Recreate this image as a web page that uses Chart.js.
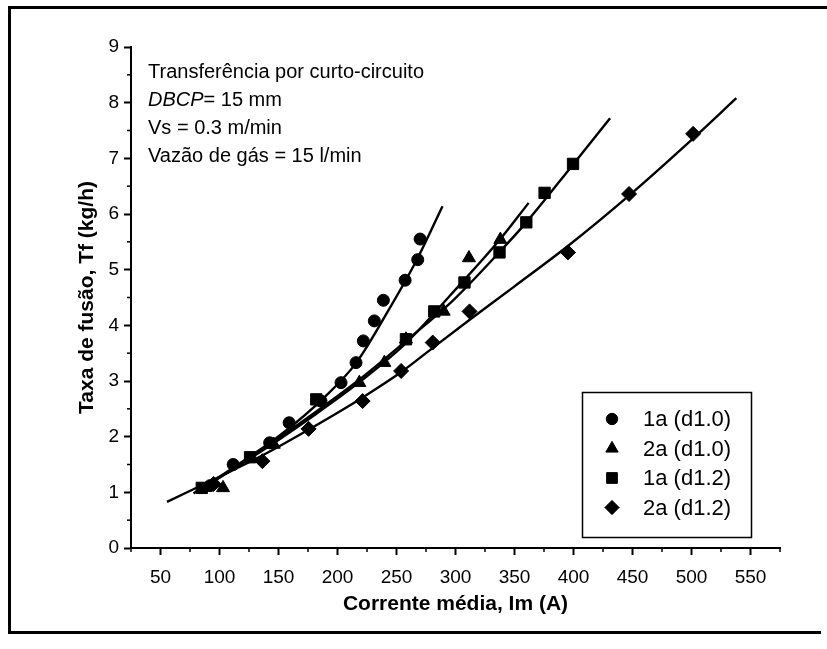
<!DOCTYPE html>
<html>
<head>
<meta charset="utf-8">
<script src="https://cdn.jsdelivr.net/npm/chart.js@4.4.1/dist/chart.umd.min.js"></script>
<style>
html,body{margin:0;padding:0;background:#fff;}
#wrap{width:827px;height:649px;position:relative;}
</style>
</head>
<body>
<div id="wrap"><canvas id="c" width="827" height="649"></canvas></div>
<script>
// ---------- data ----------
const xMajorTicks = [50,100,150,200,250,300,350,400,450,500,550];
const xMinorTicks = [25,75,125,175,225,275,325,375,425,475,525,575];
const yMajorTicks = [0,1,2,3,4,5,6,7,8,9];
const yMinorTicks = [0.5,1.5,2.5,3.5,4.5,5.5,6.5,7.5,8.5];

const seriesLabels = ['1a (d1.0)','2a (d1.0)','1a (d1.2)','2a (d1.2)'];

// 1a (d1.0) - circles
const s1_x = [92, 111.6, 142.5, 159, 186, 203, 215.7, 221.9, 231.2, 238.9, 257.3, 268, 270];
const s1_y = [1.12, 1.50, 1.89, 2.25, 2.64, 2.97, 3.33, 3.72, 4.08, 4.45, 4.81, 5.18, 5.55];
// 2a (d1.0) - triangles
const s2_x = [103, 146, 186, 218.5, 239.7, 258, 290, 311.4, 338];
const s2_y = [1.08, 1.86, 2.62, 2.97, 3.33, 3.75, 4.25, 5.21, 5.54];
// 1a (d1.2) - squares
const s3_x = [85, 125.9, 182, 258, 282, 307.6, 337.3, 360, 375.5, 399.6];
const s3_y = [1.08, 1.63, 2.67, 3.75, 4.25, 4.77, 5.31, 5.85, 6.38, 6.90];
// 2a (d1.2) - diamonds
const s4_x = [95, 136.4, 175.5, 221.3, 253.9, 280.7, 311.9, 395.3, 447.1, 501.4];
const s4_y = [1.15, 1.56, 2.14, 2.64, 3.18, 3.69, 4.25, 5.31, 6.36, 7.44];

// fitted curves
const f1_x = [78, 110, 151, 190, 216, 244, 267, 289];
const f1_y = [0.98, 1.42, 2.02, 2.73, 3.33, 4.30, 5.17, 6.14];
const f2_x = [80, 140, 180, 218, 258, 296, 338, 362];
const f2_y = [1.00, 1.80, 2.38, 2.97, 3.68, 4.55, 5.55, 6.20];
const f3_x = [80, 130, 180, 220, 258, 298, 337, 360, 400, 431];
const f3_y = [1.00, 1.68, 2.42, 3.05, 3.72, 4.45, 5.31, 5.85, 6.90, 7.72];
const f4_x = [55.5, 100, 137, 175, 221, 254, 281, 312, 350, 395, 447, 501, 538];
const f4_y = [0.83, 1.28, 1.67, 2.12, 2.70, 3.16, 3.60, 4.10, 4.70, 5.42, 6.33, 7.35, 8.08];

const noteLines = ['Transferência por curto-circuito', 'DBCP', '= 15 mm', 'Vs = 0.3 m/min', 'Vazão de gás = 15 l/min'];
const xTitle = 'Corrente média, Im (A)';
const yTitle = 'Taxa de fusão, Tf (kg/h)';

// ---------- helpers ----------
const FONT = "'Liberation Sans', Arial, Helvetica, sans-serif";
const zip = (xs, ys) => xs.map((x, i) => ({x: x, y: ys[i]}));

function markerSet(label, xs, ys, style, r) {
  return {
    label: label, data: zip(xs, ys), showLine: false,
    pointStyle: style, pointRadius: r, pointHoverRadius: r,
    backgroundColor: '#000', borderColor: '#000', borderWidth: 1, order: 1
  };
}
function fitSet(xs, ys) {
  return {
    label: '', data: zip(xs, ys), showLine: true, pointRadius: 0, pointHoverRadius: 0,
    borderColor: '#000', borderWidth: 2.4, fill: false, cubicInterpolationMode: 'monotone', order: 2
  };
}

const styles = [['circle', 6], ['triangle', 7.5], ['rect', 8], ['rectRot', 7.5]];

const decor = {
  id: 'decor',
  beforeDraw(chart) {
    const ctx = chart.ctx;
    ctx.save();
    ctx.fillStyle = '#fff';
    ctx.fillRect(0, 0, chart.width, chart.height);
    ctx.restore();
  },
  afterDraw(chart) {
    const ctx = chart.ctx;
    const xs = chart.scales.x, ys = chart.scales.y;
    ctx.save();
    // minor ticks
    ctx.strokeStyle = '#000';
    ctx.lineWidth = 1.5;
    xMinorTicks.forEach(v => {
      const p = xs.getPixelForValue(v);
      ctx.beginPath(); ctx.moveTo(p, xs.top); ctx.lineTo(p, xs.top + 4); ctx.stroke();
    });
    yMinorTicks.forEach(v => {
      const p = ys.getPixelForValue(v);
      ctx.beginPath(); ctx.moveTo(ys.right, p); ctx.lineTo(ys.right - 4, p); ctx.stroke();
    });

    // annotation text
    ctx.fillStyle = '#000';
    ctx.textBaseline = 'alphabetic';
    ctx.textAlign = 'left';
    ctx.font = '20px ' + FONT;
    ctx.fillText(noteLines[0], 148, 78);
    ctx.font = 'italic 20px ' + FONT;
    ctx.fillText(noteLines[1], 148, 106);
    const w = ctx.measureText(noteLines[1]).width;
    ctx.font = '20px ' + FONT;
    ctx.fillText(noteLines[2], 148 + w, 106);
    ctx.fillText(noteLines[3], 148, 134);
    ctx.fillText(noteLines[4], 148, 162);

    // legend
    ctx.lineWidth = 1.5;
    ctx.strokeRect(582.5, 392.5, 169, 145);
    ctx.font = '22px ' + FONT;
    ctx.textBaseline = 'middle';
    seriesLabels.forEach((lab, i) => {
      const yy = 419 + i * 29.5;
      ctx.fillStyle = '#000';
      ctx.strokeStyle = '#000';
      ctx.lineWidth = 1;
      ctx.beginPath();
      Chart.helpers.drawPoint(ctx, {pointStyle: styles[i][0], radius: styles[i][1] * 0.95, rotation: 0, borderWidth: 1}, 612, yy);
      ctx.fillText(lab, 643, yy + 1);
    });

    // outer frame
    ctx.fillStyle = '#000';
    ctx.fillRect(8, 6, 819, 3);
    ctx.fillRect(8, 6, 3, 628);
    ctx.fillRect(8, 631, 813, 3);
    ctx.restore();
  }
};

new Chart(document.getElementById('c'), {
  type: 'scatter',
  data: {
    datasets: [
      fitSet(f1_x, f1_y), fitSet(f2_x, f2_y), fitSet(f3_x, f3_y), fitSet(f4_x, f4_y),
      markerSet(seriesLabels[0], s1_x, s1_y, styles[0][0], styles[0][1]),
      markerSet(seriesLabels[1], s2_x, s2_y, styles[1][0], styles[1][1]),
      markerSet(seriesLabels[2], s3_x, s3_y, styles[2][0], styles[2][1]),
      markerSet(seriesLabels[3], s4_x, s4_y, styles[3][0], styles[3][1])
    ]
  },
  options: {
    responsive: false,
    animation: false,
    events: [],
    layout: {padding: {top: 47, right: 47, left: 0, bottom: 0}},
    plugins: {legend: {display: false}, tooltip: {enabled: false}},
    scales: {
      x: {
        type: 'linear', min: 25, max: 575,
        afterBuildTicks: s => { s.ticks = xMajorTicks.map(v => ({value: v})); },
        afterFit: s => { s.height = 101; },
        grid: {display: true, drawOnChartArea: false, drawTicks: true, tickLength: 7, tickWidth: 2, tickColor: '#000'},
        border: {display: true, color: '#000', width: 2},
        ticks: {color: '#000', font: {family: FONT, size: 19}, padding: 11, maxRotation: 0, autoSkip: false},
        title: {display: true, text: xTitle, color: '#000', font: {family: FONT, size: 21, weight: 'bold'}, padding: {top: 0, bottom: 32}}
      },
      y: {
        type: 'linear', min: 0, max: 9,
        afterBuildTicks: s => { s.ticks = yMajorTicks.map(v => ({value: v})); },
        afterFit: s => { s.width = 131; },
        grid: {display: true, drawOnChartArea: false, drawTicks: true, tickLength: 7, tickWidth: 2, tickColor: '#000'},
        border: {display: true, color: '#000', width: 2},
        ticks: {color: '#000', font: {family: FONT, size: 19}, padding: 5, autoSkip: false},
        title: {display: true, text: yTitle, color: '#000', font: {family: FONT, size: 21, weight: 'bold'}, padding: {top: 75, bottom: 0}}
      }
    }
  },
  plugins: [decor]
});
</script>
</body>
</html>
